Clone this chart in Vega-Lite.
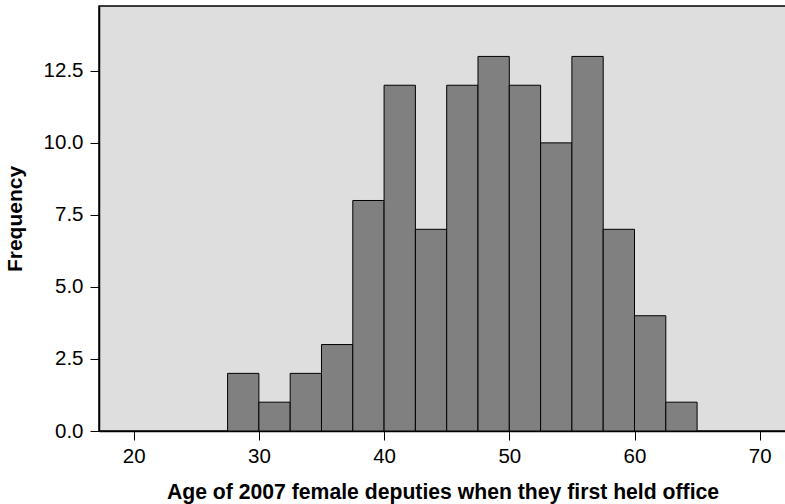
{
  "$schema": "https://vega.github.io/schema/vega-lite/v6.json",
  "width": 687,
  "height": 425,
  "autosize": {"type": "none"},
  "padding": {"left": 99, "top": 6, "right": 0, "bottom": 73},
  "background": "white",
  "config": {
    "view": {"fill": "#dedede", "stroke": "black", "strokeWidth": 1.5},
    "font": "Liberation Sans",
    "axis": {"labelFont": "Liberation Sans", "titleFont": "Liberation Sans", "labelColor": "black", "titleColor": "black", "domainColor": "black", "tickColor": "black"}
  },
  "data": {"values": [
    {"start": 27.5, "end": 30, "count": 2},
    {"start": 30, "end": 32.5, "count": 1},
    {"start": 32.5, "end": 35, "count": 2},
    {"start": 35, "end": 37.5, "count": 3},
    {"start": 37.5, "end": 40, "count": 8},
    {"start": 40, "end": 42.5, "count": 12},
    {"start": 42.5, "end": 45, "count": 7},
    {"start": 45, "end": 47.5, "count": 12},
    {"start": 47.5, "end": 50, "count": 13},
    {"start": 50, "end": 52.5, "count": 12},
    {"start": 52.5, "end": 55, "count": 10},
    {"start": 55, "end": 57.5, "count": 13},
    {"start": 57.5, "end": 60, "count": 7},
    {"start": 60, "end": 62.5, "count": 4},
    {"start": 62.5, "end": 65, "count": 1}
  ]},
  "mark": {"type": "rect", "fill": "#808080", "stroke": "black", "strokeWidth": 1},
  "encoding": {
    "x": {
      "field": "start", "type": "quantitative",
      "scale": {"domain": [17.23, 72.1], "nice": false, "zero": false},
      "axis": {
        "values": [20, 30, 40, 50, 60, 70],
        "grid": false, "tickSize": 9, "labelFontSize": 20.5, "labelPadding": 6,
        "title": "Age of 2007 female deputies when they first held office",
        "titleFontSize": 21.2, "titleFontWeight": "bold", "titlePadding": 15,
        "domainWidth": 1.5
      }
    },
    "x2": {"field": "end"},
    "y": {
      "field": "count", "type": "quantitative",
      "scale": {"domain": [0, 14.75], "nice": false},
      "axis": {
        "values": [0, 2.5, 5, 7.5, 10, 12.5], "format": ".1f",
        "grid": false, "tickSize": 9, "labelFontSize": 20.5, "labelPadding": 7,
        "title": "Frequency", "titleFontSize": 21, "titleFontWeight": "bold", "titlePadding": 18,
        "domainWidth": 1.5
      }
    },
    "y2": {"datum": 0}
  }
}
